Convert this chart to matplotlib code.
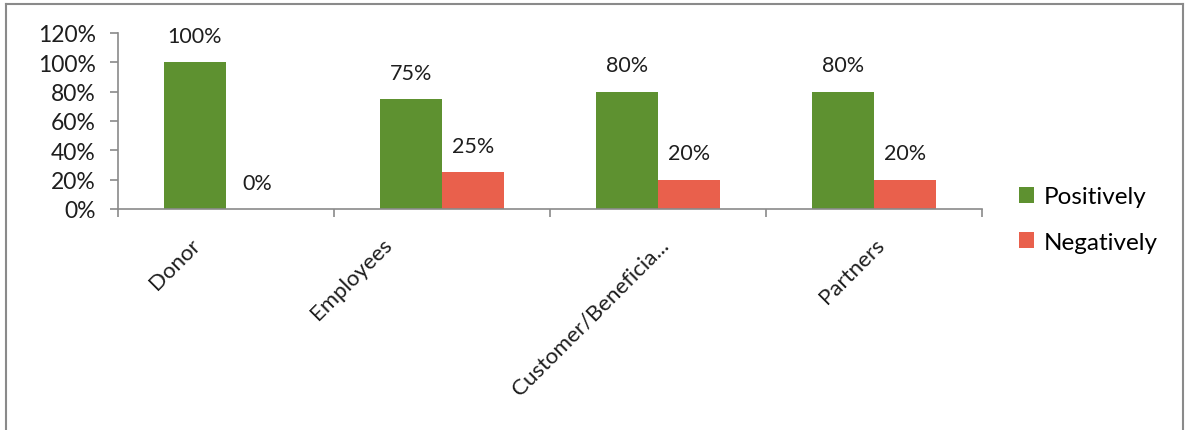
import matplotlib.pyplot as plt
import numpy as np

categories = ['Donor', 'Employees', 'Customer/Beneficia...', 'Partners']
positively = [100, 75, 80, 80]
negatively = [0, 25, 20, 20]
yticks = [0, 20, 40, 60, 80, 100, 120]

green = '#5e9130'
red = '#e9604c'
grey = '#8a8a8a'
txt = '#1e1e1e'

plt.rcParams['font.family'] = ['Lato', 'DejaVu Sans']

fig = plt.figure(figsize=(11.9, 4.31), dpi=100)
ax = fig.add_axes([118/1190, 1-210/431, (982-118)/1190, (210-34)/431])

x = np.arange(len(categories))
w = 0.287
b1 = ax.bar(x - w/2, positively, w, color=green, label='Positively')
b2 = ax.bar(x + w/2, negatively, w, color=red, label='Negatively')

for bars, vals in [(b1, positively), (b2, negatively)]:
    for bar, v in zip(bars, vals):
        ax.annotate(f'{v}%', (bar.get_x() + bar.get_width()/2, v),
                    xytext=(0, 19), textcoords='offset points',
                    ha='center', va='center', fontsize=15.5, color=txt)

ax.set_xlim(-0.5, len(categories) - 0.5)
ax.set_ylim(0, 120)
ax.set_yticks(yticks)
ax.set_yticklabels([f'{t}%' for t in yticks], fontsize=16.5, color=txt)

ax.set_xticks(np.arange(len(categories) + 1) - 0.5)
ax.set_xticklabels([])

# category labels, excel places the rotated ones a bit unevenly
shifts = [-26, -43, 0, 0]
for i, (name, dx) in enumerate(zip(categories, shifts)):
    ax.annotate(name, (i, 0), xycoords=ax.get_xaxis_transform(),
                xytext=(dx, -18), textcoords='offset points',
                rotation=45, ha='right', va='top', rotation_mode='anchor',
                fontsize=16, color=txt)

ax.tick_params(axis='both', which='major', direction='out', length=6,
               color=grey, width=1.2)
ax.tick_params(axis='y', pad=10)

for s in ['top', 'right']:
    ax.spines[s].set_visible(False)
for s in ['left', 'bottom']:
    ax.spines[s].set_color(grey)
    ax.spines[s].set_linewidth(1.2)

ax.legend(loc='center left', bbox_to_anchor=(1.043, -0.06), frameon=False,
          fontsize=17.5, handlelength=0.6, handleheight=0.6, handletextpad=0.4,
          labelspacing=1.0, borderpad=0, borderaxespad=0)

# outer frame
fig.add_artist(plt.Line2D([6/1190, 6/1190], [0, 1-5/431], color=grey, lw=1.5))
fig.add_artist(plt.Line2D([6/1190, 1183/1190], [1-5/431, 1-5/431], color=grey, lw=1.5))
fig.add_artist(plt.Line2D([1183/1190, 1183/1190], [0, 1-5/431], color=grey, lw=1.5))

fig.savefig('out.png', dpi=100)
